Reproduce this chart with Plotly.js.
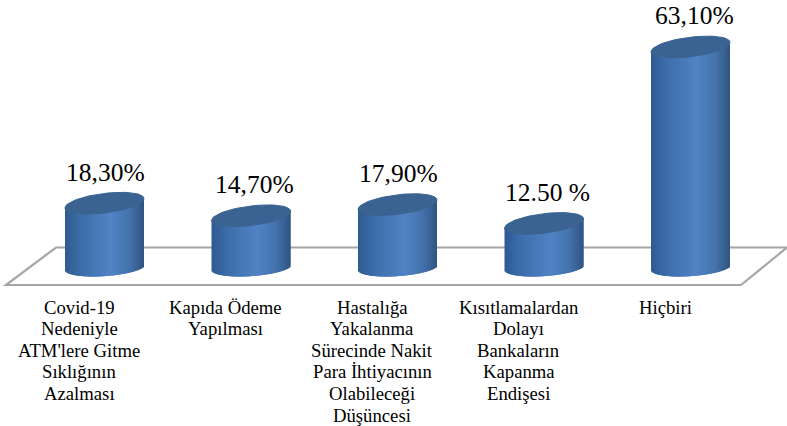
<!DOCTYPE html>
<html><head><meta charset="utf-8">
<script src="https://cdn.plot.ly/plotly-3.0.0.min.js"></script>
<style>html,body{margin:0;padding:0;background:#fff}#c{width:787px;height:426px}</style>
</head><body><div id="c"></div>
<script>
const values = [18.3, 14.7, 17.9, 12.5, 63.1];
const valueLabels = ["18,30%", "14,70%", "17,90%", "12.50 %", "63,10%"];
const categoryLines = [
  ["Covid-19", "Nedeniyle", "ATM'lere Gitme", "Sıklığının", "Azalması"],
  ["Kapıda Ödeme", "Yapılması"],
  ["Hastalığa", "Yakalanma", "Sürecinde Nakit", "Para İhtiyacının", "Olabileceği", "Düşüncesi"],
  ["Kısıtlamalardan", "Dolayı", "Bankaların", "Kapanma", "Endişesi"],
  ["Hiçbiri"]
];

// scale of the drawing: pixels per category and per percentage point
const W = 787, H = 426, PX_X = 146.5, PX_Y = 3.487, X0 = 104.5, Y0 = 267;
const BODY = 79, A = BODY / 2, STRIP_W = 2.4;
const xOf = px => (px - X0) / PX_X;
const yOf = px => (Y0 - px) / PX_Y;

const stops = [[0,[46,90,144]],[0.18,[60,108,168]],[0.58,[80,131,197]],[0.82,[68,114,172]],[1,[48,84,130]]];
function shade(t){
  for(let i=1;i<stops.length;i++){
    if(t<=stops[i][0]){
      const a=stops[i-1],b=stops[i],u=(t-a[0])/(b[0]-a[0]);
      const c=a[1].map((v,k)=>Math.round(v+(b[1][k]-v)*u));
      return `rgb(${c[0]},${c[1]},${c[2]})`;
    }
  }
  return "rgb(48,84,130)";
}
const arc = (dx,b)=> b*Math.sqrt(Math.max(0,1-(dx/A)*(dx/A)));
const BOT_K=0.07, BOT_B=8.6, TOP_K=0.118, TOP_B=9.8;

const traces = [];
values.forEach((v,i)=>{
  const xs=[],ys=[],bases=[],widths=[],cols=[];
  for(let j=0;j<BODY;j++){
    const w=Math.min(STRIP_W,BODY-j), dx=j+0.5-A;
    const base=(BOT_K*dx-arc(dx,BOT_B)-0.5)/PX_Y;
    const top=v+TOP_K*dx/PX_Y;
    xs.push(i+(j+w/2-A)/PX_X); bases.push(base); ys.push(top-base);
    widths.push(w/PX_X); cols.push(shade((j+0.5)/BODY));
  }
  traces.push({type:"bar",x:xs,y:ys,base:bases,width:widths,
    marker:{color:cols,opacity:1,line:{width:0}},hoverinfo:"skip",showlegend:false});
});
values.forEach((v,i)=>{
  const xs=[],ys=[];
  for(let d=0;d<=72;d++){
    const t=d/72*2*Math.PI, dx=A*Math.cos(t);
    xs.push(i+dx/PX_X);
    ys.push(v+(TOP_K*dx+TOP_B*Math.sin(t))/PX_Y);
  }
  traces.push({type:"scatter",mode:"lines",x:xs,y:ys,fill:"toself",fillcolor:"#3b6392",
    line:{color:"#3b6392",width:1},hoverinfo:"skip",showlegend:false});
});

const annotations = [];
const labelShift = [0.5,3.5,1,3.5,3.5];
valueLabels.forEach((t,i)=>{
  annotations.push({x:i,y:values[i],xref:"x",yref:"y",text:t,showarrow:false,
    xanchor:"center",yanchor:"middle",xshift:labelShift[i],yshift:31,
    font:{family:"Liberation Serif",size:25.5,color:"#000"}});
});
categoryLines.forEach((lines,i)=>{
  lines.forEach((t,l)=>{
    annotations.push({x:i,y:yOf(307),xref:"x",yref:"y",text:t,showarrow:false,
      xanchor:"center",yanchor:"middle",xshift:-25.5,yshift:-21.6*l,
      font:{family:"Liberation Serif",size:18.7,color:"#000"}});
  });
});

const floor = [[6,285],[741,285],[787,247.5],[56,247.5]];
const floorPath = floor.map((p,k)=>(k?"L":"M")+xOf(p[0])+" "+yOf(p[1])).join(" ")+" Z";

const layout = {
  width:W,height:H,autosize:false,margin:{l:0,r:0,t:0,b:0,pad:0},
  paper_bgcolor:"#fff",plot_bgcolor:"#fff",showlegend:false,barmode:"overlay",
  xaxis:{visible:false,range:[xOf(0),xOf(W)],fixedrange:true},
  yaxis:{visible:false,range:[yOf(H),yOf(0)],fixedrange:true},
  shapes:[{type:"path",path:floorPath,xref:"x",yref:"y",layer:"below",
    fillcolor:"#ffffff",line:{color:"#a6a6a6",width:2.2}}],
  annotations
};
Plotly.newPlot("c",traces,layout,{displayModeBar:false,staticPlot:true});
</script></body></html>
